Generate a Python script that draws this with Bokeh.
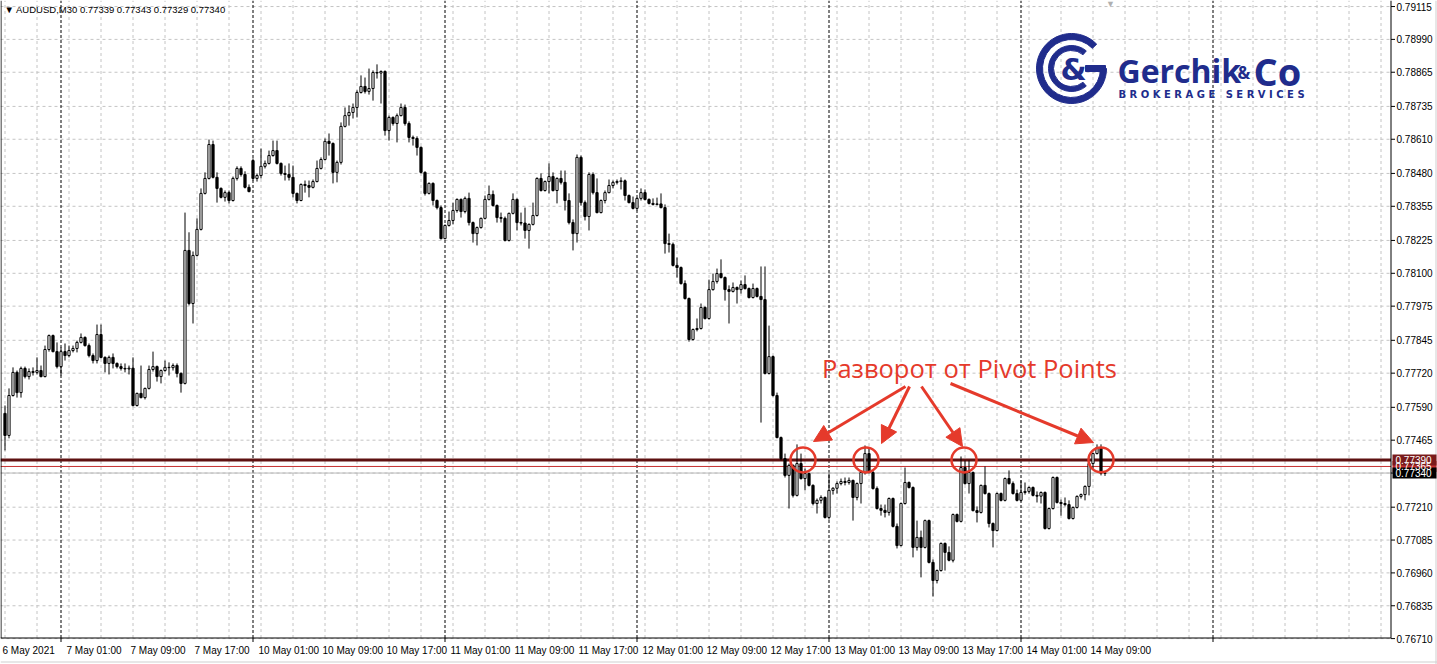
import math
from bokeh.plotting import figure
from bokeh.models import ColumnDataSource, Arrow, NormalHead, Range1d, Label
from bokeh.core.properties import value
from bokeh.embed import file_html
from bokeh.resources import INLINE

SYMBOL = "AUDUSD,M30"

# AUDUSD 30-minute bars, 6 May 2021 17:00 .. 14 May 2021 10:30 (one entry per bar)
OPEN = [
    0.77567, 0.77483, 0.77635, 0.77723, 0.77646, 0.77738, 0.77707, 0.77726, 0.77723, 0.77730, 0.77707, 0.77810,
    0.77863, 0.77802, 0.77745, 0.77802, 0.77787, 0.77806, 0.77814, 0.77837, 0.77856, 0.77825, 0.77787, 0.77768,
    0.77867, 0.77780, 0.77757, 0.77780, 0.77757, 0.77745, 0.77738, 0.77736, 0.77739, 0.77597, 0.77643, 0.77627,
    0.77662, 0.77734, 0.77745, 0.77707, 0.77730, 0.77742, 0.77741, 0.77749, 0.77719, 0.77681, 0.78187, 0.77985,
    0.78168, 0.78267, 0.78404, 0.78461, 0.78590, 0.78465, 0.78423, 0.78389, 0.78407, 0.78377, 0.78461, 0.78499,
    0.78476, 0.78427, 0.78529, 0.78461, 0.78472, 0.78507, 0.78518, 0.78548, 0.78567, 0.78518, 0.78480, 0.78476,
    0.78465, 0.78404, 0.78377, 0.78438, 0.78434, 0.78427, 0.78449, 0.78499, 0.78533, 0.78602, 0.78594, 0.78484,
    0.78522, 0.78659, 0.78700, 0.78712, 0.78731, 0.78788, 0.78811, 0.78792, 0.78803, 0.78864, 0.78862, 0.78868,
    0.78643, 0.78693, 0.78670, 0.78700, 0.78731, 0.78670, 0.78617, 0.78613, 0.78579, 0.78484, 0.78404, 0.78442,
    0.78377, 0.78350, 0.78232, 0.78282, 0.78301, 0.78339, 0.78381, 0.78335, 0.78385, 0.78293, 0.78251, 0.78274,
    0.78309, 0.78381, 0.78400, 0.78358, 0.78312, 0.78309, 0.78225, 0.78328, 0.78381, 0.78293, 0.78291, 0.78263,
    0.78286, 0.78320, 0.78461, 0.78415, 0.78449, 0.78468, 0.78415, 0.78461, 0.78446, 0.78377, 0.78293, 0.78251,
    0.78541, 0.78369, 0.78316, 0.78476, 0.78407, 0.78331, 0.78377, 0.78407, 0.78434, 0.78446, 0.78449, 0.78452,
    0.78396, 0.78369, 0.78347, 0.78385, 0.78407, 0.78381, 0.78366, 0.78362, 0.78364, 0.78350, 0.78213, 0.78210,
    0.78130, 0.78122, 0.78061, 0.78004, 0.77848, 0.77886, 0.77890, 0.77970, 0.77928, 0.78038, 0.78069, 0.78099,
    0.78084, 0.78038, 0.78031, 0.78046, 0.78038, 0.78057, 0.78042, 0.78008, 0.78042, 0.78012, 0.78000, 0.77719,
    0.77783, 0.77635, 0.77475, 0.77395, 0.77331, 0.77369, 0.77255, 0.77376, 0.77319, 0.77338, 0.77293, 0.77224,
    0.77236, 0.77247, 0.77171, 0.77274, 0.77282, 0.77300, 0.77308, 0.77304, 0.77312, 0.77247, 0.77300, 0.77342,
    0.77414, 0.77342, 0.77281, 0.77205, 0.77198, 0.77190, 0.77243, 0.77137, 0.77064, 0.77224, 0.77304, 0.77285,
    0.77057, 0.77095, 0.77057, 0.77159, 0.77000, 0.76931, 0.76969, 0.77072, 0.77038, 0.77008, 0.77182, 0.77156,
    0.77361, 0.77300, 0.77342, 0.77197, 0.77190, 0.77293, 0.77262, 0.77148, 0.77121, 0.77262, 0.77236, 0.77319,
    0.77300, 0.77262, 0.77236, 0.77266, 0.77270, 0.77285, 0.77255, 0.77252, 0.77266, 0.77129, 0.77205, 0.77323,
    0.77228, 0.77224, 0.77220, 0.77167, 0.77209, 0.77251, 0.77258, 0.77289, 0.77376, 0.77414, 0.77437, 0.77339,
]
HIGH = [
    0.77597, 0.77662, 0.77742, 0.77730, 0.77745, 0.77745, 0.77738, 0.77742, 0.77780, 0.77749, 0.77825, 0.77867,
    0.77867, 0.77837, 0.77818, 0.77833, 0.77825, 0.77825, 0.77844, 0.77871, 0.77860, 0.77833, 0.77795, 0.77905,
    0.77905, 0.77784, 0.77787, 0.77795, 0.77761, 0.77757, 0.77757, 0.77749, 0.77780, 0.77646, 0.77749, 0.77665,
    0.77749, 0.77802, 0.77749, 0.77734, 0.77768, 0.77761, 0.77757, 0.77757, 0.77723, 0.78331, 0.78256, 0.78183,
    0.78309, 0.78423, 0.78484, 0.78609, 0.78605, 0.78484, 0.78427, 0.78415, 0.78415, 0.78468, 0.78507, 0.78507,
    0.78488, 0.78438, 0.78537, 0.78480, 0.78575, 0.78529, 0.78567, 0.78605, 0.78605, 0.78522, 0.78510, 0.78518,
    0.78510, 0.78407, 0.78442, 0.78453, 0.78453, 0.78457, 0.78529, 0.78541, 0.78613, 0.78632, 0.78598, 0.78529,
    0.78674, 0.78731, 0.78739, 0.78746, 0.78796, 0.78853, 0.78845, 0.78879, 0.78872, 0.78895, 0.78872, 0.78872,
    0.78700, 0.78697, 0.78708, 0.78746, 0.78742, 0.78678, 0.78624, 0.78621, 0.78583, 0.78488, 0.78446, 0.78446,
    0.78381, 0.78358, 0.78286, 0.78335, 0.78369, 0.78385, 0.78385, 0.78392, 0.78407, 0.78297, 0.78278, 0.78312,
    0.78396, 0.78434, 0.78415, 0.78362, 0.78331, 0.78316, 0.78331, 0.78404, 0.78385, 0.78331, 0.78350, 0.78290,
    0.78369, 0.78465, 0.78480, 0.78453, 0.78518, 0.78484, 0.78465, 0.78491, 0.78491, 0.78404, 0.78305, 0.78552,
    0.78548, 0.78377, 0.78484, 0.78484, 0.78461, 0.78381, 0.78415, 0.78457, 0.78453, 0.78457, 0.78465, 0.78457,
    0.78400, 0.78392, 0.78388, 0.78423, 0.78419, 0.78385, 0.78385, 0.78388, 0.78404, 0.78362, 0.78251, 0.78217,
    0.78160, 0.78126, 0.78073, 0.78008, 0.77890, 0.77928, 0.77985, 0.77974, 0.78076, 0.78099, 0.78118, 0.78153,
    0.78088, 0.78054, 0.78065, 0.78050, 0.78073, 0.78092, 0.78046, 0.78061, 0.78046, 0.78126, 0.78126, 0.77901,
    0.77787, 0.77646, 0.77479, 0.77414, 0.77376, 0.77373, 0.77449, 0.77414, 0.77357, 0.77342, 0.77297, 0.77243,
    0.77255, 0.77251, 0.77338, 0.77286, 0.77308, 0.77319, 0.77323, 0.77323, 0.77315, 0.77304, 0.77350, 0.77445,
    0.77433, 0.77350, 0.77289, 0.77220, 0.77220, 0.77247, 0.77247, 0.77148, 0.77228, 0.77361, 0.77308, 0.77289,
    0.77159, 0.77121, 0.77163, 0.77163, 0.77011, 0.76973, 0.77076, 0.77076, 0.77061, 0.77186, 0.77186, 0.77403,
    0.77388, 0.77388, 0.77346, 0.77213, 0.77296, 0.77365, 0.77266, 0.77152, 0.77266, 0.77266, 0.77323, 0.77350,
    0.77308, 0.77277, 0.77312, 0.77304, 0.77289, 0.77289, 0.77270, 0.77270, 0.77270, 0.77209, 0.77327, 0.77327,
    0.77239, 0.77247, 0.77236, 0.77213, 0.77255, 0.77262, 0.77293, 0.77380, 0.77418, 0.77449, 0.77449, 0.77343,
]
LOW = [
    0.77426, 0.77472, 0.77631, 0.77627, 0.77627, 0.77700, 0.77696, 0.77711, 0.77715, 0.77704, 0.77704, 0.77802,
    0.77799, 0.77738, 0.77711, 0.77768, 0.77780, 0.77799, 0.77799, 0.77833, 0.77821, 0.77780, 0.77757, 0.77757,
    0.77776, 0.77723, 0.77715, 0.77738, 0.77738, 0.77730, 0.77723, 0.77715, 0.77593, 0.77593, 0.77624, 0.77620,
    0.77658, 0.77726, 0.77688, 0.77681, 0.77726, 0.77711, 0.77730, 0.77704, 0.77646, 0.77677, 0.77978, 0.77909,
    0.78164, 0.78263, 0.78400, 0.78457, 0.78461, 0.78369, 0.78385, 0.78373, 0.78366, 0.78373, 0.78453, 0.78468,
    0.78423, 0.78408, 0.78453, 0.78449, 0.78461, 0.78499, 0.78514, 0.78544, 0.78514, 0.78472, 0.78453, 0.78453,
    0.78389, 0.78366, 0.78374, 0.78407, 0.78389, 0.78423, 0.78446, 0.78495, 0.78529, 0.78548, 0.78442, 0.78446,
    0.78514, 0.78655, 0.78662, 0.78689, 0.78693, 0.78784, 0.78784, 0.78780, 0.78757, 0.78841, 0.78746, 0.78624,
    0.78605, 0.78662, 0.78598, 0.78697, 0.78662, 0.78598, 0.78586, 0.78548, 0.78480, 0.78396, 0.78400, 0.78358,
    0.78343, 0.78229, 0.78229, 0.78278, 0.78286, 0.78331, 0.78312, 0.78328, 0.78282, 0.78217, 0.78206, 0.78270,
    0.78305, 0.78377, 0.78354, 0.78293, 0.78293, 0.78221, 0.78221, 0.78324, 0.78263, 0.78282, 0.78232, 0.78194,
    0.78282, 0.78316, 0.78411, 0.78411, 0.78404, 0.78411, 0.78366, 0.78438, 0.78339, 0.78286, 0.78187, 0.78217,
    0.78358, 0.78301, 0.78263, 0.78400, 0.78328, 0.78328, 0.78366, 0.78404, 0.78423, 0.78438, 0.78419, 0.78377,
    0.78366, 0.78343, 0.78339, 0.78377, 0.78377, 0.78362, 0.78358, 0.78358, 0.78347, 0.78175, 0.78179, 0.78126,
    0.78084, 0.78057, 0.78000, 0.77840, 0.77844, 0.77879, 0.77886, 0.77924, 0.77924, 0.78034, 0.78061, 0.78080,
    0.77996, 0.77909, 0.78027, 0.77985, 0.78023, 0.78038, 0.78004, 0.78004, 0.78008, 0.77532, 0.77715, 0.77715,
    0.77631, 0.77472, 0.77388, 0.77323, 0.77205, 0.77247, 0.77251, 0.77315, 0.77274, 0.77289, 0.77217, 0.77186,
    0.77224, 0.77167, 0.77163, 0.77258, 0.77262, 0.77293, 0.77293, 0.77296, 0.77159, 0.77236, 0.77224, 0.77334,
    0.77338, 0.77277, 0.77201, 0.77178, 0.77171, 0.77178, 0.77133, 0.77053, 0.77061, 0.77220, 0.77281, 0.77019,
    0.77045, 0.76943, 0.77053, 0.76996, 0.76870, 0.76920, 0.76965, 0.76969, 0.77004, 0.77000, 0.77152, 0.77152,
    0.77296, 0.77262, 0.77194, 0.77152, 0.77186, 0.77258, 0.77133, 0.77057, 0.77118, 0.77232, 0.77232, 0.77296,
    0.77258, 0.77232, 0.77232, 0.77258, 0.77262, 0.77251, 0.77228, 0.77224, 0.77125, 0.77125, 0.77201, 0.77224,
    0.77178, 0.77213, 0.77163, 0.77163, 0.77205, 0.77243, 0.77236, 0.77255, 0.77357, 0.77411, 0.77331, 0.77329,
]
CLOSE = [
    0.77483, 0.77635, 0.77723, 0.77646, 0.77738, 0.77707, 0.77726, 0.77723, 0.77730, 0.77707, 0.77810, 0.77863,
    0.77802, 0.77745, 0.77802, 0.77787, 0.77806, 0.77814, 0.77837, 0.77856, 0.77825, 0.77787, 0.77768, 0.77867,
    0.77780, 0.77757, 0.77780, 0.77757, 0.77745, 0.77738, 0.77736, 0.77739, 0.77597, 0.77643, 0.77627, 0.77662,
    0.77734, 0.77745, 0.77707, 0.77730, 0.77742, 0.77741, 0.77749, 0.77719, 0.77681, 0.78187, 0.77985, 0.78168,
    0.78267, 0.78404, 0.78461, 0.78590, 0.78465, 0.78423, 0.78389, 0.78407, 0.78377, 0.78461, 0.78499, 0.78476,
    0.78427, 0.78411, 0.78461, 0.78472, 0.78507, 0.78518, 0.78548, 0.78567, 0.78518, 0.78480, 0.78476, 0.78465,
    0.78404, 0.78377, 0.78438, 0.78434, 0.78427, 0.78449, 0.78499, 0.78533, 0.78602, 0.78594, 0.78484, 0.78522,
    0.78659, 0.78700, 0.78712, 0.78731, 0.78788, 0.78811, 0.78792, 0.78803, 0.78864, 0.78862, 0.78868, 0.78643,
    0.78693, 0.78670, 0.78700, 0.78731, 0.78670, 0.78617, 0.78613, 0.78579, 0.78484, 0.78404, 0.78442, 0.78377,
    0.78350, 0.78232, 0.78282, 0.78301, 0.78339, 0.78381, 0.78335, 0.78385, 0.78293, 0.78251, 0.78274, 0.78309,
    0.78381, 0.78400, 0.78358, 0.78312, 0.78309, 0.78225, 0.78328, 0.78381, 0.78293, 0.78291, 0.78263, 0.78286,
    0.78320, 0.78461, 0.78415, 0.78449, 0.78468, 0.78415, 0.78461, 0.78446, 0.78377, 0.78293, 0.78251, 0.78541,
    0.78369, 0.78316, 0.78476, 0.78407, 0.78331, 0.78377, 0.78407, 0.78434, 0.78446, 0.78449, 0.78452, 0.78396,
    0.78369, 0.78347, 0.78385, 0.78407, 0.78381, 0.78366, 0.78362, 0.78364, 0.78350, 0.78213, 0.78210, 0.78130,
    0.78122, 0.78061, 0.78004, 0.77848, 0.77886, 0.77890, 0.77970, 0.77928, 0.78038, 0.78069, 0.78099, 0.78084,
    0.78038, 0.78031, 0.78046, 0.78038, 0.78057, 0.78042, 0.78008, 0.78042, 0.78012, 0.78000, 0.77719, 0.77783,
    0.77635, 0.77475, 0.77395, 0.77331, 0.77369, 0.77255, 0.77376, 0.77319, 0.77338, 0.77293, 0.77224, 0.77236,
    0.77247, 0.77171, 0.77274, 0.77282, 0.77300, 0.77308, 0.77304, 0.77312, 0.77247, 0.77300, 0.77342, 0.77414,
    0.77342, 0.77281, 0.77205, 0.77198, 0.77190, 0.77243, 0.77137, 0.77064, 0.77224, 0.77304, 0.77285, 0.77057,
    0.77095, 0.77057, 0.77159, 0.77000, 0.76931, 0.76969, 0.77072, 0.77038, 0.77008, 0.77182, 0.77156, 0.77361,
    0.77300, 0.77342, 0.77197, 0.77190, 0.77293, 0.77262, 0.77148, 0.77121, 0.77262, 0.77236, 0.77319, 0.77300,
    0.77262, 0.77236, 0.77266, 0.77270, 0.77285, 0.77255, 0.77252, 0.77266, 0.77129, 0.77205, 0.77323, 0.77228,
    0.77224, 0.77220, 0.77167, 0.77209, 0.77251, 0.77258, 0.77289, 0.77376, 0.77414, 0.77437, 0.77339, 0.77340,
]

# time axis: bar index -> label
X_TICKS = [0, 16, 32, 48, 64, 80, 96, 112, 128, 144, 160, 176, 192, 208, 224, 240, 256, 272]
X_TICK_LABELS = ["6 May 2021", "7 May 01:00", "7 May 09:00", "7 May 17:00", "10 May 01:00",
                 "10 May 09:00", "10 May 17:00", "11 May 01:00", "11 May 09:00", "11 May 17:00",
                 "12 May 01:00", "12 May 09:00", "12 May 17:00", "13 May 01:00", "13 May 09:00",
                 "13 May 17:00", "14 May 01:00", "14 May 09:00"]
DAY_STARTS = [14, 62, 110, 158, 206, 254, 302]

PRICE_TICKS = [0.79115, 0.78990, 0.78865, 0.78735, 0.78610, 0.78480, 0.78355, 0.78225, 0.78100,
               0.77975, 0.77845, 0.77720, 0.77590, 0.77465, 0.77340, 0.77210, 0.77085, 0.76960,
               0.76835, 0.76710]

PIVOT = 0.77390
PIVOT_2 = 0.77365
BID = 0.77340
TOUCH_BARS = [199.5, 215.25, 239.75, 274.0]
NOTE = "Разворот от Pivot Points"

# ---- canvas geometry (the whole window is one frame; axes are drawn by hand) ----
W, H = 1437, 664
CHART_R, CHART_B = 1390.5, 637.5          # right price-axis line, bottom time-axis line
BAR_PX = 4.0                              # horizontal pixels per bar
X0 = -1.125
Y1 = 0.79138                              # price at the top edge
PRICE_PER_PX = 0.00003805
X_END = X0 + W / BAR_PX
Y_BOT = Y1 - H * PRICE_PER_PX

AXIS_FONT = "Liberation Sans"
GRID = "#c4c4c4"
NAVY = "#202c8c"
RED = "#e53a2b"


def sx(px):
    return X0 + px / BAR_PX


def sy(py):
    return Y1 - py * PRICE_PER_PX


n = len(CLOSE)
idx = list(range(n))
top = [max(o, c) for o, c in zip(OPEN, CLOSE)]
bottom = [min(o, c) for o, c in zip(OPEN, CLOSE)]
fill = ["white" if c >= o else "black" for o, c in zip(OPEN, CLOSE)]
src = ColumnDataSource(dict(i=idx, high=HIGH, low=LOW, top=top, bottom=bottom, fill=fill))

p = figure(frame_width=W, frame_height=H, output_backend="svg", toolbar_location=None,
           x_range=Range1d(X0, X_END), y_range=Range1d(Y_BOT, Y1),
           x_axis_location=None, y_axis_location=None,
           min_border=0, background_fill_color="white", border_fill_color="white")
p.outline_line_color = None
p.xgrid.visible = False
p.ygrid.visible = False

xr, yb = sx(CHART_R), sy(CHART_B)

# dashed grid inside the chart area
vgrid = list(range(0, 345, 8))
p.segment(x0=vgrid, y0=[yb] * len(vgrid), x1=vgrid, y1=[Y1] * len(vgrid),
          line_color=GRID, line_dash="3 3", line_width=1)
p.segment(x0=[X0] * len(PRICE_TICKS), y0=PRICE_TICKS, x1=[xr] * len(PRICE_TICKS), y1=PRICE_TICKS,
          line_color=GRID, line_dash="3 3", line_width=1)

# day separators
p.segment(x0=DAY_STARTS, y0=[yb] * len(DAY_STARTS), x1=DAY_STARTS, y1=[Y1] * len(DAY_STARTS),
          line_color="black", line_dash="3 2", line_width=1)

# price levels
p.segment(x0=[X0] * 3, y0=[BID, PIVOT_2, PIVOT], x1=[xr] * 3, y1=[BID, PIVOT_2, PIVOT],
          line_color=["#b8b8b8", "#c53030", "#5e1111"], line_width=[1, 1, 3])

# candles
p.segment("i", "high", "i", "low", source=src, line_color="black", line_width=1)
p.vbar(x="i", top="top", bottom="bottom", width=0.55, fill_color="fill",
       line_color="black", line_width=1, source=src)

# chart borders and axis lines
p.segment(x0=[sx(0.5), X0, xr], y0=[yb, yb, yb], x1=[sx(0.5), xr, xr], y1=[Y1, yb, Y1],
          line_color="black", line_width=1)
p.segment(x0=[sx(1435.5), X0], y0=[Y_BOT, sy(661.5)], x1=[sx(1435.5), X_END], y1=[Y1, sy(661.5)],
          line_color="#cfcfcf", line_width=1)

# price axis: ticks and labels
p.segment(x0=[xr] * len(PRICE_TICKS), y0=PRICE_TICKS, x1=[sx(1394.5)] * len(PRICE_TICKS),
          y1=PRICE_TICKS, line_color="black", line_width=1)
p.text(x=[sx(1396)] * len(PRICE_TICKS), y=PRICE_TICKS, text=[f"{v:.5f}" for v in PRICE_TICKS],
       text_font=value(AXIS_FONT), text_font_size="10px", text_color="black",
       text_align="left", text_baseline="middle")

# time axis: ticks at day starts, labels
p.segment(x0=DAY_STARTS, y0=[yb] * len(DAY_STARTS), x1=DAY_STARTS, y1=[sy(641.5)] * len(DAY_STARTS),
          line_color="black", line_width=1)
p.text(x=X_TICKS, y=[sy(650)] * len(X_TICKS), text=X_TICK_LABELS, x_offset=-2.5,
       text_font=value(AXIS_FONT), text_font_size="10px", text_color="black",
       text_align="left", text_baseline="middle")

# price tags on the axis
tag_lv = [PIVOT_2, PIVOT, BID]
p.rect(x=[sx(1414)] * 3, y=tag_lv, width=44, height=11, width_units="screen",
       height_units="screen", fill_color=["#c53030", "#7a1b1b", "black"], line_color=None)
p.text(x=[sx(1395)] * 3, y=tag_lv, text=[f"{v:.5f}" for v in tag_lv],
       text_font=value(AXIS_FONT), text_font_size="10px", text_color="white",
       text_align="left", text_baseline="middle")

# header line
hdr = "▼ " + SYMBOL + "  " + "  ".join(f"{v:.5f}" for v in (OPEN[-1], HIGH[-1], LOW[-1], CLOSE[-1]))
p.add_layout(Label(x=4, y=H - 9, x_units="screen", y_units="screen", text=hdr,
                   text_font=AXIS_FONT, text_font_size="9.5px", text_color="black",
                   text_baseline="middle"))
p.add_layout(Label(x=1110, y=H - 3, x_units="screen", y_units="screen", text="▼",
                   text_font=AXIS_FONT, text_font_size="9px", text_color="#b0b0b0",
                   text_align="center", text_baseline="middle"))

# pivot touches
p.ellipse(x=TOUCH_BARS, y=[PIVOT] * len(TOUCH_BARS), width=25, height=25,
          width_units="screen", height_units="screen", fill_color=None,
          line_color=RED, line_width=2.5)

arrows = [((905, 386), (813, 441)), ((909, 386), (881, 443)),
          ((921, 386), (962, 446)), ((950, 383), (1093, 442))]
for (ax0, ay0), (ax1, ay1) in arrows:
    p.add_layout(Arrow(x_start=ax0, y_start=H - ay0, x_end=ax1, y_end=H - ay1,
                       start_units="screen", end_units="screen", line_color=RED, line_width=3,
                       end=NormalHead(size=17, fill_color=RED, line_color=RED)))

p.add_layout(Label(x=969, y=H - 367, x_units="screen", y_units="screen", text=NOTE,
                   text_font="Open Sans", text_font_size="25.5px", text_color=RED,
                   text_align="center", text_baseline="middle"))

# logo
cx, cy = sx(1071), sy(68)
p.annular_wedge(x=cx, y=cy, inner_radius=29, outer_radius=35, inner_radius_units="screen",
                outer_radius_units="screen", start_angle=0, end_angle=math.radians(44),
                direction="clock", color=NAVY)
p.annular_wedge(x=cx, y=cy, inner_radius=18, outer_radius=23, inner_radius_units="screen",
                outer_radius_units="screen", start_angle=math.radians(50),
                end_angle=math.radians(310), direction="anticlock", color=NAVY)
p.rect(x=sx(1095), y=cy, width=20, height=6, width_units="screen", height_units="screen",
       color=NAVY)
p.add_layout(Label(x=1073, y=H - 69, x_units="screen", y_units="screen", text="&",
                   text_font="DejaVu Sans", text_font_style="bold", text_font_size="30px",
                   text_color=NAVY, text_align="center", text_baseline="middle"))
p.add_layout(Label(x=1117, y=H - 70, x_units="screen", y_units="screen", text="Gerchik",
                   text_font="Open Sans", text_font_style="bold", text_font_size="32px",
                   text_color=NAVY, text_baseline="middle"))
p.add_layout(Label(x=1237, y=H - 72, x_units="screen", y_units="screen", text="&",
                   text_font="Open Sans", text_font_style="bold", text_font_size="17px",
                   text_color=NAVY, text_baseline="middle"))
p.add_layout(Label(x=1253, y=H - 70, x_units="screen", y_units="screen", text="Co",
                   text_font="Open Sans", text_font_style="bold", text_font_size="38px",
                   text_color=NAVY, text_baseline="middle"))
p.add_layout(Label(x=1118, y=H - 94, x_units="screen", y_units="screen",
                   text="B R O K E R A G E\u00a0\u00a0 S E R V I C E S",
                   text_font="DejaVu Sans", text_font_style="bold", text_font_size="10px",
                   text_color=NAVY, text_baseline="middle"))

open("out.html", "w").write(file_html(p, INLINE))
